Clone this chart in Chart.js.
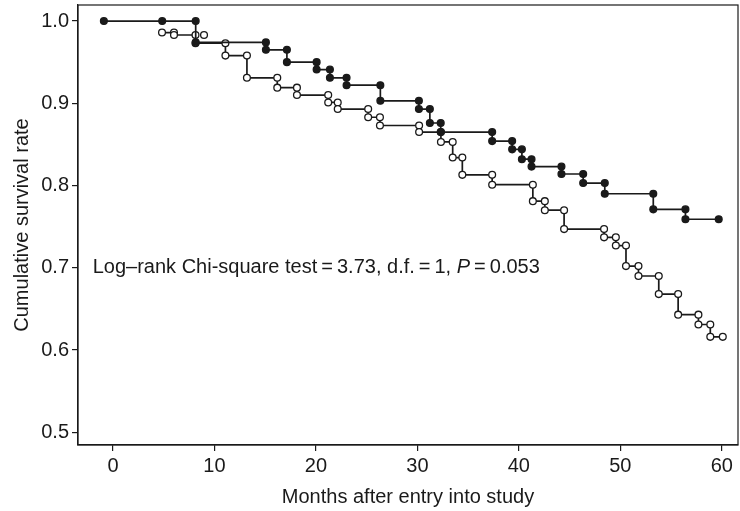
<!DOCTYPE html>
<html lang="en">
<head>
<meta charset="UTF-8">
<title>Cumulative survival</title>
<script src="https://cdn.jsdelivr.net/npm/chart.js"></script>
<style>
  html, body { margin: 0; padding: 0; background: #fff; }
</style>
</head>
<body>
<canvas id="km" width="740" height="511"></canvas>
<script>
// Kaplan-Meier step vertices (months, cumulative survival), one pair of arrays per group
const filledMonths = [-0.9, 4.85, 8.15, 8.15, 15.07, 15.07, 17.14, 17.14, 20.07, 20.07, 21.38, 21.38,
  23.02, 23.02, 26.35, 26.35, 30.15, 30.15, 31.23, 31.23, 32.3, 32.3, 37.37, 37.37, 39.34, 39.34,
  40.3, 40.3, 41.25, 41.25, 44.2, 44.2, 46.34, 46.34, 48.47, 48.47, 53.25, 53.25, 56.42, 56.42, 59.7];
const filledSurv = [1.0, 1.0, 1.0, 0.974, 0.974, 0.965, 0.965, 0.950, 0.950, 0.941, 0.941, 0.931,
  0.931, 0.922, 0.922, 0.903, 0.903, 0.893, 0.893, 0.876, 0.876, 0.865, 0.865, 0.854, 0.854, 0.844,
  0.844, 0.832, 0.832, 0.823, 0.823, 0.814, 0.814, 0.803, 0.803, 0.790, 0.790, 0.771, 0.771, 0.759, 0.759];

const openMonths = [4.83, 6.01, 6.01, 8.13, 8.13, 11.08, 11.08, 13.2, 13.2, 16.19, 16.19, 18.13, 18.13,
  21.21, 21.21, 22.15, 22.15, 25.15, 25.15, 26.31, 26.31, 30.17, 30.17, 32.32, 32.32, 33.48, 33.48,
  34.43, 34.43, 37.37, 37.37, 41.38, 41.38, 42.56, 42.56, 44.46, 44.46, 48.4, 48.4, 49.56, 49.56,
  50.56, 50.56, 51.79, 51.79, 53.79, 53.79, 55.7, 55.7, 57.7, 57.7, 58.87, 58.87, 60.1];
const openSurv = [0.986, 0.986, 0.983, 0.983, 0.973, 0.973, 0.958, 0.958, 0.931, 0.931, 0.919, 0.919, 0.910,
  0.910, 0.901, 0.901, 0.893, 0.893, 0.883, 0.883, 0.873, 0.873, 0.865, 0.865, 0.853, 0.853, 0.834,
  0.834, 0.813, 0.813, 0.801, 0.801, 0.781, 0.781, 0.770, 0.770, 0.747, 0.747, 0.737, 0.737, 0.727,
  0.727, 0.702, 0.702, 0.690, 0.690, 0.668, 0.668, 0.643, 0.643, 0.631, 0.631, 0.616, 0.616];

// lone censored mark of the open group
const openCensorMonths = [8.97];
const openCensorSurv = [0.983];

const xTicks = [0, 10, 20, 30, 40, 50, 60];
const yTicks = [0.5, 0.6, 0.7, 0.8, 0.9, 1.0];

const FONT = "'Liberation Sans', Arial, sans-serif";
const INK = '#1a1a1a';

function toPoints(xs, ys) {
  return xs.map((x, i) => ({ x: x, y: ys[i] }));
}

// box round the plot area
const framePlugin = {
  id: 'frame',
  afterDraw(chart) {
    const { ctx, chartArea: a } = chart;
    ctx.save();
    ctx.strokeStyle = INK;
    ctx.lineWidth = 1.2;
    ctx.strokeRect(a.left, a.top, a.right - a.left, a.bottom - a.top);
    ctx.restore();
  }
};

// test result written inside the plot, "P" in italics
const notePlugin = {
  id: 'note',
  afterDatasetsDraw(chart, args, opts) {
    const { ctx, scales } = chart;
    let px = scales.x.getPixelForValue(opts.x);
    const py = scales.y.getPixelForValue(opts.y);
    ctx.save();
    ctx.fillStyle = INK;
    ctx.textBaseline = 'middle';
    opts.parts.forEach(p => {
      ctx.font = (p.italic ? 'italic ' : '') + opts.size + 'px ' + FONT;
      ctx.fillText(p.text, px, py);
      px += ctx.measureText(p.text).width;
    });
    ctx.restore();
  }
};

// no extra room for end labels: the plot box runs to the canvas edge
function noPad(s) {
  s.paddingTop = 0; s.paddingBottom = 0; s.paddingLeft = 0; s.paddingRight = 0;
}

const markerBase = { pointRadius: 3.4, pointHoverRadius: 3.4, pointBorderWidth: 1.3, pointBorderColor: INK };

new Chart(document.getElementById('km'), {
  type: 'scatter',
  data: {
    datasets: [
      Object.assign({
        label: 'Filled',
        data: toPoints(filledMonths, filledSurv),
        showLine: true,
        borderColor: INK,
        borderWidth: 1.7,
        pointBackgroundColor: INK
      }, markerBase),
      Object.assign({
        label: 'Open',
        data: toPoints(openMonths, openSurv),
        showLine: true,
        borderColor: INK,
        borderWidth: 1.7,
        pointBackgroundColor: '#fff'
      }, markerBase),
      Object.assign({
        label: 'Open censored',
        data: toPoints(openCensorMonths, openCensorSurv),
        showLine: false,
        pointBackgroundColor: '#fff'
      }, markerBase)
    ]
  },
  options: {
    responsive: false,
    animation: false,
    layout: { autoPadding: false, padding: { top: 5, right: 2, left: 0, bottom: 0 } },
    plugins: {
      legend: { display: false },
      tooltip: { enabled: false },
      note: {
        x: -2.0, y: 0.700, size: 20,
        parts: [
          { text: 'Log\u2013rank Chi-square test\u2009=\u20093.73, d.f.\u2009=\u20091, ' },
          { text: 'P', italic: true },
          { text: '\u2009=\u20090.053' }
        ]
      }
    },
    scales: {
      x: {
        type: 'linear',
        min: -3.45,
        max: 61.6,
        afterBuildTicks: s => { s.ticks = xTicks.map(v => ({ value: v })); },
        afterFit: s => { s.height = 66; noPad(s); },
        border: { display: true, color: INK, width: 1.2 },
        grid: { drawOnChartArea: false, drawTicks: true, tickLength: 6, color: INK, lineWidth: 1.2 },
        ticks: { color: INK, padding: 3, font: { family: FONT, size: 20 } },
        title: {
          display: true, text: 'Months after entry into study', color: INK,
          font: { family: FONT, size: 20 }, padding: { top: 0, bottom: 2 }
        }
      },
      y: {
        type: 'linear',
        min: 0.4845,
        max: 1.0195,
        afterBuildTicks: s => { s.ticks = yTicks.map(v => ({ value: v })); },
        afterFit: s => { s.width = 78; noPad(s); },
        border: { display: true, color: INK, width: 1.2 },
        grid: { drawOnChartArea: false, drawTicks: true, tickLength: 6, color: INK, lineWidth: 1.2 },
        ticks: { color: INK, padding: 3, font: { family: FONT, size: 20 }, callback: v => v.toFixed(1) },
        title: {
          display: true, text: 'Cumulative survival rate', color: INK,
          font: { family: FONT, size: 20 }, padding: { top: 10, bottom: 0 }
        }
      }
    }
  },
  plugins: [framePlugin, notePlugin]
});
</script>
</body>
</html>
